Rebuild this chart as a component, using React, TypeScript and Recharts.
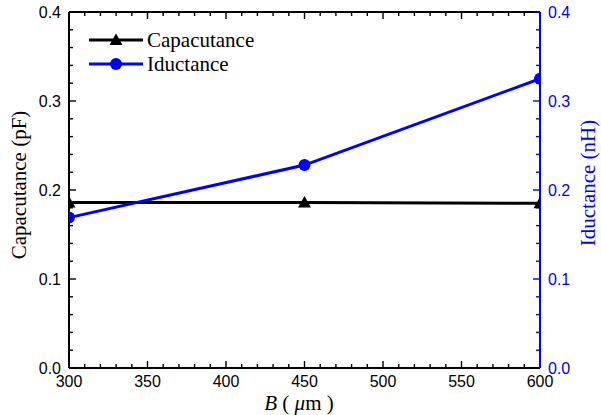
import { Legend, Line, LineChart, ReferenceLine, XAxis, YAxis } from "recharts";

const bValues = [300, 450, 600];
const capacitance = [0.186, 0.186, 0.185];
const inductance = [0.169, 0.228, 0.325];

const xTicks = [300, 310, 320, 330, 340, 350, 360, 370, 380, 390, 400, 410, 420, 430, 440, 450, 460, 470, 480, 490, 500, 510, 520, 530, 540, 550, 560, 570, 580, 590, 600];
const yTicks = [0, 0.02, 0.04, 0.06, 0.08, 0.1, 0.12, 0.14, 0.16, 0.18, 0.2, 0.22, 0.24, 0.26, 0.28, 0.3, 0.32, 0.34, 0.36, 0.38, 0.4];
const xLabels = [300, 350, 400, 450, 500, 550, 600];
const yLabels = [0, 0.1, 0.2, 0.3, 0.4];

const X_MIN = 300;
const X_MAX = 600;

const data = bValues.map((b, i) => ({ b, cap: capacitance[i], ind: inductance[i] }));

const BLUE = "#0000ff";
const SANS = "'Liberation Sans', Arial, sans-serif";
const SERIF = "'Liberation Serif', 'Times New Roman', serif";

const isMajorX = (v: number) => v % 50 === 0;
const isMajorY = (v: number) => Math.abs(v * 10 - Math.round(v * 10)) < 1e-6;

// inward tick marks on the frame, drawn from the full-height/width reference line endpoints
function XTickMark(props: any) {
  const { x1, y1, y2, major } = props;
  const top = Math.min(Number(y1), Number(y2));
  const bottom = Math.max(Number(y1), Number(y2));
  const len = major ? 7 : 4;
  return (
    <g>
      <line x1={x1} x2={x1} y1={bottom} y2={bottom - len} stroke="#000" strokeWidth={1.4} />
      <line x1={x1} x2={x1} y1={top} y2={top + len} stroke="#000" strokeWidth={1.4} />
    </g>
  );
}

function YTickMark(props: any) {
  const { x1, x2, y1, major } = props;
  const left = Math.min(Number(x1), Number(x2));
  const right = Math.max(Number(x1), Number(x2));
  const len = major ? 7 : 4;
  return (
    <g>
      <line x1={left} x2={left + len} y1={y1} y2={y1} stroke="#000" strokeWidth={1.4} />
      <line x1={right} x2={right - len} y1={y1} y2={y1} stroke={BLUE} strokeWidth={1.4} />
    </g>
  );
}

function BottomLabel({ x, y, payload }: any) {
  return (
    <text x={x} y={Number(y) + 19} textAnchor="middle" fontSize={16} fontFamily={SANS} fill="#000">
      {payload.value}
    </text>
  );
}

function LeftLabel({ x, y, payload }: any) {
  return (
    <text x={Number(x) - 8} y={Number(y) + 6} textAnchor="end" fontSize={16} fontFamily={SANS} fill="#000">
      {Number(payload.value).toFixed(1)}
    </text>
  );
}

function RightLabel({ x, y, payload }: any) {
  return (
    <text x={Number(x) + 8} y={Number(y) + 6} textAnchor="start" fontSize={16} fontFamily={SANS} fill={BLUE}>
      {Number(payload.value).toFixed(1)}
    </text>
  );
}

// side: -1 keeps only the left half, 1 only the right half (markers cut by the frame)
function Triangle({ cx, cy, fill, side = 0 }: { cx: number; cy: number; fill: string; side?: number }) {
  const l = side === 1 ? cx : cx - 6.5;
  const r = side === -1 ? cx : cx + 6.5;
  const top = cy - 6.5;
  const base = cy + 5;
  return <path d={`M${cx},${top} L${r},${base} L${l},${base} Z`} fill={fill} />;
}

function HalfCircle({ cx, cy, r, fill, side = 0 }: { cx: number; cy: number; r: number; fill: string; side?: number }) {
  if (side === 0) return <circle cx={cx} cy={cy} r={r} fill={fill} />;
  const sweep = side === 1 ? 1 : 0;
  return <path d={`M${cx},${cy - r} A${r},${r} 0 0 ${sweep} ${cx},${cy + r} Z`} fill={fill} />;
}

const edgeSide = (b: number) => (b === X_MIN ? 1 : b === X_MAX ? -1 : 0);

function TriangleDot(props: any) {
  const { cx, cy, index, payload } = props;
  if (cx == null || cy == null) return <g key={index} />;
  return <Triangle key={index} cx={cx} cy={cy} fill="#000" side={edgeSide(payload?.b)} />;
}

function CircleDot(props: any) {
  const { cx, cy, index, payload } = props;
  if (cx == null || cy == null) return <g key={index} />;
  return <HalfCircle key={index} cx={cx} cy={cy} r={6} fill={BLUE} side={edgeSide(payload?.b)} />;
}

function LegendBox() {
  const rows = [
    { label: "Capacutance", color: "#000", y: 40, tri: true },
    { label: "Iductance", color: BLUE, y: 64, tri: false },
  ];
  return (
    <svg width={260} height={80} style={{ display: "block" }}>
      {rows.map((r) => (
        <g key={r.label}>
          <line x1={89} x2={143} y1={r.y} y2={r.y} stroke={r.color} strokeWidth={3} />
          {r.tri ? <Triangle cx={116} cy={r.y} fill={r.color} /> : <circle cx={116} cy={r.y} r={6} fill={r.color} />}
          <text x={147} y={r.y + 7} fontSize={21} fontFamily={SERIF} fill="#000">
            {r.label}
          </text>
        </g>
      ))}
    </svg>
  );
}

export default function App() {
  return (
    <div style={{ position: "absolute", left: 0, top: 0, width: 601, height: 415, background: "#fff" }}>
      <LineChart width={601} height={415} data={data} margin={{ top: 12, right: 0, bottom: 0, left: 0 }}>
        <XAxis
          xAxisId="bottom"
          dataKey="b"
          type="number"
          domain={[X_MIN, X_MAX]}
          ticks={xLabels}
          interval={0}
          height={47}
          tickSize={0}
          tickMargin={0}
          tickLine={false}
          tick={<BottomLabel />}
          axisLine={{ stroke: "#000", strokeWidth: 2 }}
          label={{
            content: () => (
              <text x={299} y={410} textAnchor="middle" fontSize={21} fontFamily={SERIF} fill="#000">
                <tspan fontStyle="italic">B</tspan> ( <tspan fontStyle="italic">μ</tspan>m )
              </text>
            ),
          }}
        />
        <YAxis
          yAxisId="left"
          domain={[0, 0.4]}
          ticks={yLabels}
          interval={0}
          width={69}
          tickSize={0}
          tickMargin={0}
          tickLine={false}
          tick={<LeftLabel />}
          axisLine={{ stroke: "#000", strokeWidth: 2 }}
          label={{
            content: () => (
              <text
                x={0}
                y={0}
                transform="translate(26,185) rotate(-90)"
                textAnchor="middle"
                fontSize={21}
                fontFamily={SERIF}
                fill="#000"
              >
                Capacutance (pF)
              </text>
            ),
          }}
        />
        <YAxis
          yAxisId="right"
          orientation="right"
          domain={[0, 0.4]}
          ticks={yLabels}
          interval={0}
          width={61}
          tickSize={0}
          tickMargin={0}
          tickLine={false}
          tick={<RightLabel />}
          axisLine={{ stroke: BLUE, strokeWidth: 2 }}
          label={{
            content: () => (
              <text
                x={0}
                y={0}
                transform="translate(595,183) rotate(-90)"
                textAnchor="middle"
                fontSize={21}
                fontFamily={SERIF}
                fill={BLUE}
              >
                Iductance (nH)
              </text>
            ),
          }}
        />
        {/* top frame line */}
        <ReferenceLine xAxisId="bottom" yAxisId="left" y={0.4} stroke="#000" strokeWidth={2} ifOverflow="visible" />
        {xTicks.map((v) => (
          <ReferenceLine
            key={`xt-${v}`}
            xAxisId="bottom"
            yAxisId="left"
            x={v}
            ifOverflow="visible"
            shape={(p: any) => <XTickMark {...p} major={isMajorX(v)} />}
          />
        ))}
        {yTicks.map((v) => (
          <ReferenceLine
            key={`yt-${v}`}
            xAxisId="bottom"
            yAxisId="left"
            y={v}
            ifOverflow="visible"
            shape={(p: any) => <YTickMark {...p} major={isMajorY(v)} />}
          />
        ))}
        <Legend
          layout="horizontal"
          verticalAlign="middle"
          align="center"
          content={() => <LegendBox />}
          wrapperStyle={{ position: "absolute", left: 0, top: 0, width: 260, height: 80 }}
        />
        <Line
          xAxisId="bottom"
          yAxisId="left"
          dataKey="cap"
          stroke="#000"
          strokeWidth={3}
          dot={TriangleDot}
          isAnimationActive={false}
        />
        <Line
          xAxisId="bottom"
          yAxisId="right"
          dataKey="ind"
          stroke={BLUE}
          strokeWidth={3}
          dot={CircleDot}
          isAnimationActive={false}
        />
      </LineChart>
    </div>
  );
}
